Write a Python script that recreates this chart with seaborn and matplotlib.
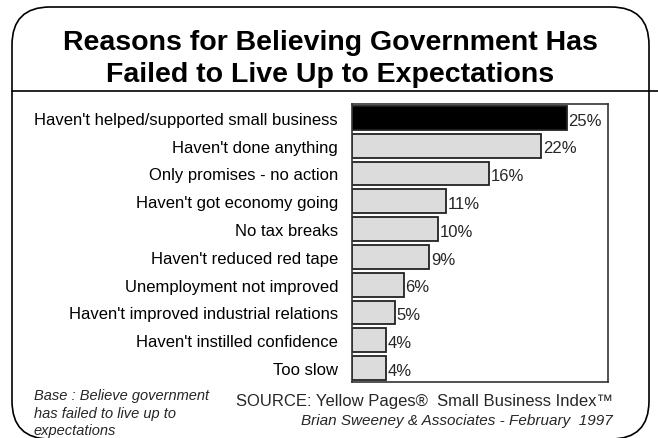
import matplotlib
matplotlib.use("Agg")
import matplotlib.pyplot as plt
from matplotlib.patches import FancyBboxPatch
import seaborn as sns
import pandas as pd

reasons = [
    "Haven't helped/supported small business",
    "Haven't done anything",
    "Only promises - no action",
    "Haven't got economy going",
    "No tax breaks",
    "Haven't reduced red tape",
    "Unemployment not improved",
    "Haven't improved industrial relations",
    "Haven't instilled confidence",
    "Too slow",
]
percent = [25, 22, 16, 11, 10, 9, 6, 5, 4, 4]
bar_colors = ["#000000"] + ["#dcdcdc"] * (len(reasons) - 1)

df = pd.DataFrame({"reason": reasons, "percent": percent})

sns.set_theme(style="white")
plt.rcParams["font.family"] = ["Liberation Sans", "DejaVu Sans"]

W, H = 658, 439
fig = plt.figure(figsize=(W / 100, H / 100), dpi=100)

# background layer in pixel coordinates for the frame and rule
bg = fig.add_axes([0, 0, 1, 1])
bg.set_xlim(0, W)
bg.set_ylim(H, 0)
bg.axis("off")
frame = FancyBboxPatch((12, 8), 637, 432,
                       boxstyle="round,pad=0,rounding_size=38",
                       fill=False, edgecolor="#000000", linewidth=1.2)
bg.add_patch(frame)
bg.plot([12, W], [92, 92], color="#000000", linewidth=1.2)

bg.text(330, 50, "Reasons for Believing Government Has", ha="center", va="baseline",
        fontsize=20.5, fontweight="bold", color="#000000")
bg.text(330, 82, "Failed to Live Up to Expectations", ha="center", va="baseline",
        fontsize=20.5, fontweight="bold", color="#000000")

bg.text(34, 400, "Base : Believe government", ha="left", va="baseline",
        fontsize=10.5, style="italic")
bg.text(34, 418, "has failed to live up to", ha="left", va="baseline",
        fontsize=10.5, style="italic")
bg.text(34, 435, "expectations", ha="left", va="baseline",
        fontsize=10.5, style="italic")
bg.text(613, 406, "SOURCE: Yellow Pages\u00ae  Small Business Index\u2122", ha="right",
        va="baseline", fontsize=12)
bg.text(613, 425, "Brian Sweeney & Associates - February  1997", ha="right",
        va="baseline", fontsize=11, style="italic")

# chart axes
x0, x1, y0, y1 = 352, 608, 105, 383
ax = fig.add_axes([x0 / W, 1 - y1 / H, (x1 - x0) / W, (y1 - y0) / H])
sns.barplot(data=df, x="percent", y="reason", hue="reason", palette=bar_colors,
            legend=False, orient="h", width=0.85, edgecolor="#222222",
            linewidth=1.3, saturation=1, ax=ax)
ax.set_xlim(0, 29.8)
ax.set_xticks([])
ax.set_xlabel("")
ax.set_ylabel("")
ax.tick_params(axis="y", length=0, pad=10, labelsize=12, labelcolor="#000000")
for s in ax.spines.values():
    s.set_visible(True)
    s.set_color("#333333")
    s.set_linewidth(1.2)
for i, v in enumerate(percent):
    ax.text(v + 0.2, i + 0.08, f"{v}%", ha="left", va="center", fontsize=12)

fig.savefig("out.png", dpi=100)
